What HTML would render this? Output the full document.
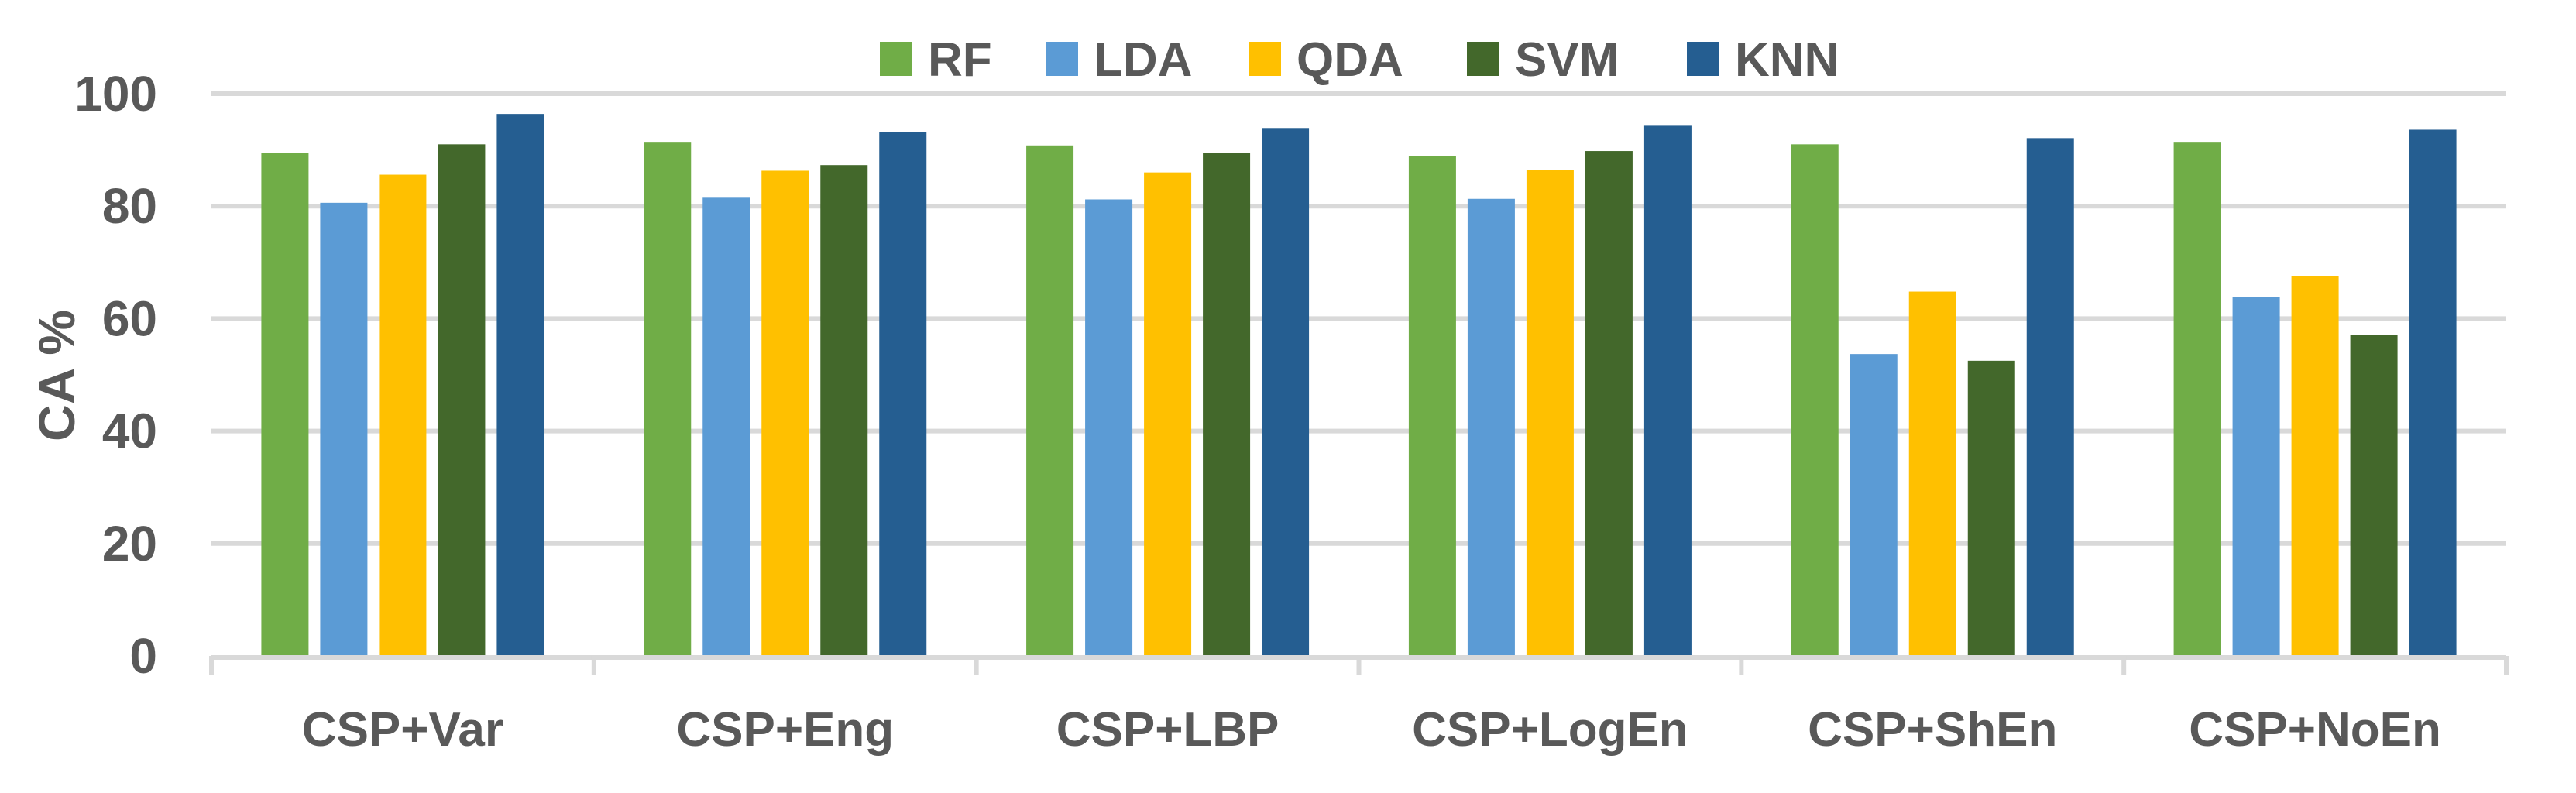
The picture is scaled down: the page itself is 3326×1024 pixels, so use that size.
<!DOCTYPE html>
<html><head><meta charset="utf-8"><style>
html,body{margin:0;padding:0;background:#fff;}
svg{display:block;font-family:"Liberation Sans",Arial,sans-serif;font-weight:bold;}
</style></head><body>
<svg id="chart" width="3326" height="1024" viewBox="0 0 3326 1024"></svg>
<script>
const categories = ["CSP+Var","CSP+Eng","CSP+LBP","CSP+LogEn","CSP+ShEn","CSP+NoEn"];
const seriesNames = ["RF","LDA","QDA","SVM","KNN"];
const rfValues  = [89.5, 91.3, 90.8, 88.9, 91.0, 91.3];
const ldaValues = [80.6, 81.5, 81.2, 81.3, 53.7, 63.8];
const qdaValues = [85.6, 86.3, 86.0, 86.4, 64.8, 67.6];
const svmValues = [91.0, 87.3, 89.4, 89.8, 52.5, 57.1];
const knnValues = [96.4, 93.2, 93.9, 94.3, 92.1, 93.6];
const yTicks = [0, 20, 40, 60, 80, 100];
const colors = ["#70ad47","#5b9bd5","#ffc000","#43682b","#255e91"];
const allSeries = [rfValues, ldaValues, qdaValues, svmValues, knnValues];

const NS = "http://www.w3.org/2000/svg";
const svg = document.getElementById("chart");
const plotL = 273, plotR = 3236, yTop = 121, yBot = 847;
const catW = (plotR - plotL) / categories.length;
const barW = 61, barGap = 15;
function y(v){ return yBot - (v - 0) / 100 * (yBot - yTop); }
function xCat(i){ return plotL + i * catW; }
function mk(tag, attrs){ const e = document.createElementNS(NS, tag); for (const k in attrs) e.setAttribute(k, attrs[k]); svg.appendChild(e); return e; }

yTicks.forEach(t => {
  if (t !== 0) {
    const g = mk("line", {x1: plotL, x2: plotR, y1: y(t), y2: y(t), stroke: "#d9d9d9", "stroke-width": 6});
    
    
  }
  const tx = mk("text", {x: 203, y: y(t) + 22, "text-anchor": "end", "font-size": 64, fill: "#595959"});
  tx.textContent = t;
  
  
});

const groupW = 5 * barW + 4 * barGap;
categories.forEach((c, i) => {
  const x0 = xCat(i) + (catW - groupW) / 2;
  allSeries.forEach((s, j) => {
    const r = mk("rect", {x: x0 + j * (barW + barGap), y: y(s[i]), width: barW, height: yBot - y(s[i]), fill: colors[j]});
    
    
  });
  const lbl = mk("text", {x: xCat(i) + catW / 2, y: 963, "text-anchor": "middle", "font-size": 62, fill: "#595959"});
  lbl.textContent = c;
  
  
});

const ax = mk("line", {x1: plotL, x2: plotR, y1: yBot + 2, y2: yBot + 2, stroke: "#d9d9d9", "stroke-width": 6});


for (let i = 0; i <= categories.length; i++) {
  const tk = mk("line", {x1: xCat(i), x2: xCat(i), y1: yBot, y2: 872, stroke: "#d9d9d9", "stroke-width": 6});
  
  
}

const yt = mk("text", {x: 0, y: 0, "text-anchor": "middle", "font-size": 66, fill: "#595959", transform: "translate(96,485) rotate(-90)"});
yt.textContent = "CA %";



const legendX = [1136, 1350, 1612, 1894, 2178];
seriesNames.forEach((n, j) => {
  const sw = mk("rect", {x: legendX[j], y: 54, width: 42, height: 44, fill: colors[j]});
  
  
  const t = mk("text", {x: legendX[j] + 62, y: 98, "font-size": 62, fill: "#595959"});
  t.textContent = n;
  
  
});
</script>
</body></html>
